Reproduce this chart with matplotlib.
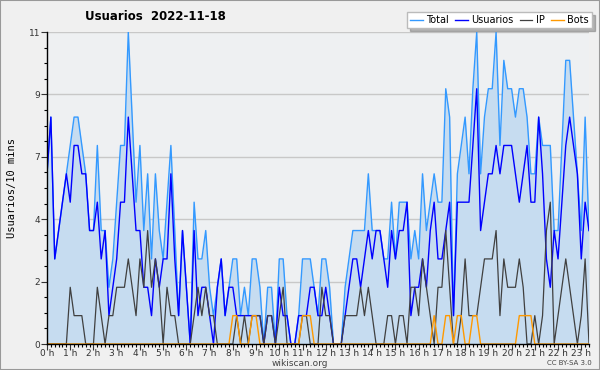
import numpy as np
import matplotlib
matplotlib.use("Agg")
import matplotlib.pyplot as plt
from matplotlib.patches import Rectangle

# values per 10 minutes, 00:00 -> 23:20
total = [6, 8, 3, 4, 5, 6, 7, 8, 8, 7, 6, 4, 4, 7, 4, 4, 2, 3, 5, 7,
         7, 11, 8, 5, 7, 4, 6, 3, 6, 4, 3, 5, 7, 4, 1, 4, 2, 0, 5, 3,
         3, 4, 2, 1, 2, 3, 1, 2, 3, 3, 1, 2, 1, 3, 3, 2, 0, 2, 2, 0,
         3, 3, 1, 0, 0, 1, 3, 3, 3, 2, 1, 3, 3, 2, 0, 0, 0, 2, 3, 4,
         4, 4, 4, 6, 4, 4, 4, 3, 3, 5, 3, 5, 5, 5, 3, 4, 3, 6, 4, 5,
         6, 5, 5, 9, 8, 1, 6, 7, 8, 6, 9, 11, 6, 8, 9, 9, 11, 7, 10, 9,
         9, 8, 9, 9, 8, 6, 6, 8, 7, 7, 7, 4, 4, 7, 10, 10, 8, 6, 4, 8,
         4]
usuarios = [6, 8, 3, 4, 5, 6, 5, 7, 7, 6, 6, 4, 4, 5, 3, 4, 1, 2, 3, 5,
            5, 8, 6, 4, 4, 2, 2, 1, 3, 2, 3, 3, 6, 3, 1, 4, 2, 0, 4, 1,
            2, 2, 1, 0, 2, 3, 1, 2, 2, 1, 1, 1, 1, 1, 1, 1, 0, 1, 1, 0,
            2, 1, 1, 0, 0, 1, 1, 1, 2, 2, 1, 1, 2, 1, 0, 0, 0, 1, 2, 3,
            3, 2, 3, 4, 3, 4, 4, 3, 2, 4, 3, 4, 4, 5, 1, 2, 2, 3, 2, 4,
            5, 3, 3, 4, 5, 1, 5, 5, 5, 5, 7, 9, 4, 5, 6, 6, 7, 6, 7, 7,
            7, 6, 5, 6, 7, 5, 5, 8, 6, 3, 2, 4, 3, 5, 7, 8, 7, 6, 3, 5,
            4]
ip = [0, 0, 0, 0, 0, 0, 2, 1, 1, 1, 0, 0, 0, 2, 1, 0, 1, 1, 2, 2,
      2, 3, 2, 1, 3, 2, 4, 2, 3, 2, 0, 2, 1, 1, 0, 0, 0, 0, 1, 2,
      1, 2, 1, 1, 0, 0, 0, 0, 0, 1, 0, 1, 0, 1, 1, 1, 0, 1, 1, 0,
      1, 2, 0, 0, 0, 0, 1, 1, 0, 0, 0, 2, 1, 1, 0, 0, 0, 1, 1, 1,
      1, 2, 1, 2, 1, 0, 0, 0, 1, 1, 0, 1, 1, 0, 2, 2, 1, 3, 2, 1,
      0, 2, 2, 4, 2, 0, 0, 1, 3, 1, 1, 1, 2, 3, 3, 3, 4, 1, 3, 2,
      2, 2, 3, 2, 0, 0, 1, 0, 1, 4, 5, 0, 1, 2, 3, 2, 1, 0, 1, 3,
      0]
bots = [0, 0, 0, 0, 0, 0, 0, 0, 0, 0, 0, 0, 0, 0, 0, 0, 0, 0, 0, 0,
        0, 0, 0, 0, 0, 0, 0, 0, 0, 0, 0, 0, 0, 0, 0, 0, 0, 0, 0, 0,
        0, 0, 0, 0, 0, 0, 0, 0, 1, 1, 0, 0, 0, 1, 1, 0, 0, 0, 0, 0,
        0, 0, 0, 0, 0, 0, 1, 1, 1, 0, 0, 0, 0, 0, 0, 0, 0, 0, 0, 0,
        0, 0, 0, 0, 0, 0, 0, 0, 0, 0, 0, 0, 0, 0, 0, 0, 0, 0, 0, 0,
        1, 0, 0, 1, 1, 0, 1, 1, 0, 0, 1, 1, 0, 0, 0, 0, 0, 0, 0, 0,
        0, 0, 1, 1, 1, 1, 0, 0, 0, 0, 0, 0, 0, 0, 0, 0, 0, 0, 0, 0,
        0]
hour_labels = ["%d h" % h for h in range(24)]
y_ticks = [0, 2.2, 4.4, 6.6, 8.8, 11]
y_labels = ["0", "2", "4", "7", "9", "11"]

fig = plt.figure(figsize=(6, 3.7), dpi=100, facecolor="#f0f0f0")
ax = fig.add_axes([47/600, 26/370, 542/600, 312/370])
ax.set_facecolor("#eef0f2")

x = np.arange(len(total))
ax.fill_between(x, total, 0, color="#c6dcf0", lw=0, zorder=1)
ax.plot(x, total, color="#3399ff", lw=1.0, label="Total", zorder=3)
ax.plot(x, usuarios, color="#0000ff", lw=1.0, label="Usuarios", zorder=4)
ax.plot(x, ip, color="#404040", lw=0.9, label="IP", zorder=5)
ax.plot(x, bots, color="#ff9900", lw=1.0, label="Bots", zorder=6)

ax.set_xlim(0, len(total) - 1)
ax.set_ylim(0, 11)
ax.set_xticks(np.arange(0, 24) * 6)
ax.set_xticklabels(hour_labels)
ax.set_xticks(np.arange(0, len(total)), minor=True)
ax.set_yticks(y_ticks)
ax.set_yticklabels(y_labels)
ax.set_yticks(np.arange(0, 11.01, 0.55), minor=True)
ax.tick_params(axis="both", which="major", direction="out", length=4, width=0.8,
               labelsize=6.5, colors="#333333", pad=1)
ax.tick_params(axis="x", which="major", pad=-0.5)
ax.tick_params(axis="both", which="minor", direction="out", length=2.5, width=0.8)
ax.yaxis.grid(True, which="major", color="#c8c8c8", lw=1, zorder=0)
ax.set_axisbelow(True)
for s in ["top", "right"]:
    ax.spines[s].set_visible(False)
for s in ["left", "bottom"]:
    ax.spines[s].set_linewidth(1)
    ax.spines[s].set_zorder(10)

ax.set_ylabel("Usuarios/10 mins", family="DejaVu Sans Mono", fontsize=7.5, labelpad=8)

fig.text(85/600, 1 - 17/370, "Usuarios  2022-11-18", fontsize=8.5, weight="bold",
         ha="left", va="center")
leg = ax.legend(ncol=4, loc="upper right", bbox_to_anchor=(592/600, 1 - 12/370),
                bbox_transform=fig.transFigure, fontsize=7, frameon=True,
                fancybox=False, shadow={"color": "#777777"}, edgecolor="#bbbbbb",
                framealpha=1, handlelength=1.3, handletextpad=0.4,
                columnspacing=0.6, borderpad=0.3, borderaxespad=0)
leg.get_frame().set_facecolor("white")
leg.set_zorder(20)

fig.text(0.5, 1 - 363/370, "wikiscan.org", fontsize=6.5, color="#444444",
         ha="center", va="center")
fig.text(592/600, 1 - 363/370, "CC BY-SA 3.0", fontsize=5, color="#444444",
         ha="right", va="center")
fig.patches.append(Rectangle((0, 0), 1, 1, transform=fig.transFigure, fill=False,
                             ec="#999999", lw=1.5))

fig.savefig("out.png", dpi=100, facecolor=fig.get_facecolor())
